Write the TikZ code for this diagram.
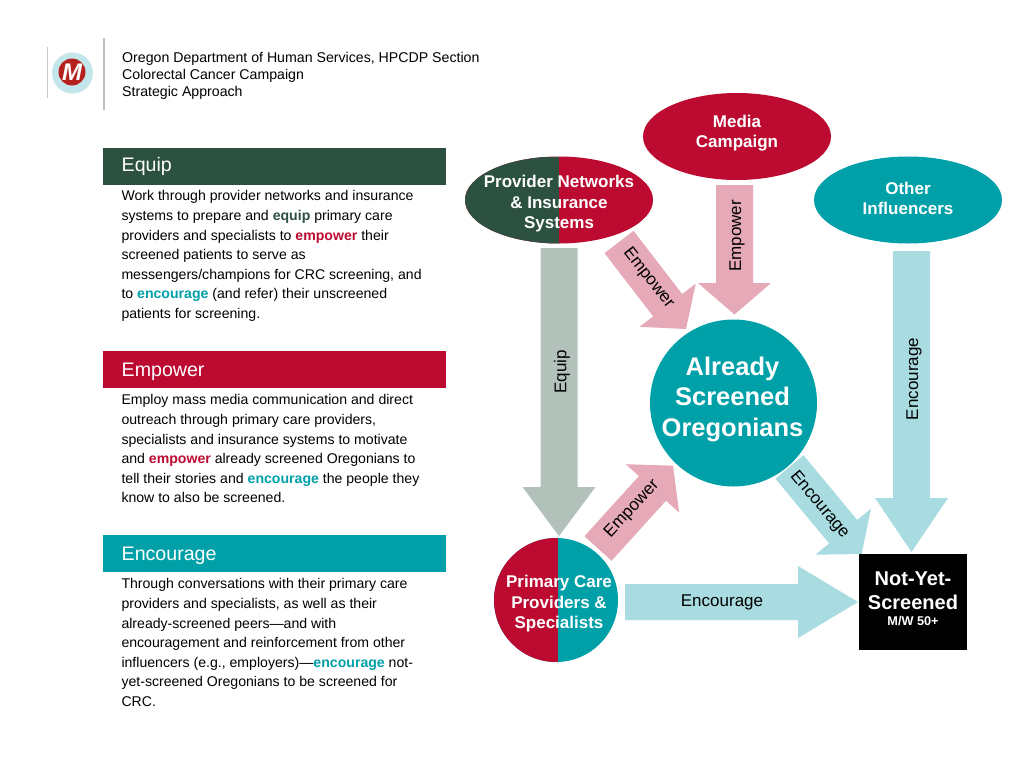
\documentclass[tikz,border=0pt]{standalone}
\usepackage{fontspec}
\usepackage{xcolor}
\usetikzlibrary{calc,shapes.geometric}
\setmainfont{Liberation Sans}
\definecolor{forest}{HTML}{2C5140}
\definecolor{crimson}{HTML}{BC0A31}
\definecolor{logored}{HTML}{B5211E}
\definecolor{teal}{HTML}{00A0A8}
\definecolor{pink}{HTML}{E5A9B8}
\definecolor{aqua}{HTML}{A8DCE1}
\definecolor{sage}{HTML}{B3C1BB}
\tikzset{
  BarBox/.style={
    rectangle, anchor=north west, minimum width=343pt, minimum height=36.5pt,
    inner sep=0pt
  },
  BarTitle/.style={
    anchor=west, inner sep=0pt, text=white, font=\fontsize{19.6}{22}\selectfont
  },
  BodyText/.style={
    anchor=north west, inner sep=0pt, align=left,
    font=\fontsize{14.1}{19.6}\selectfont
  },
  OvalBox/.style={ellipse, minimum width=188pt, minimum height=87pt, inner sep=0pt},
  RoundBox/.style={circle, inner sep=0pt},
  OnShape/.style={
    text=white, align=center, inner sep=0pt,
    font=\fontsize{17}{20.5}\selectfont\bfseries
  },
  ArrowText/.style={inner sep=0pt, font=\fontsize{17}{18}\selectfont}
}
\newcommand{\BlockArrow}[6]{%
  % #1 = colour, #2 = tail, #3 = tip
  % #4 = half shaft, #5 = half head, #6 = head length
  \pgfmathanglebetweenpoints{\pgfpointanchor{#2}{center}}{\pgfpointanchor{#3}{center}}
  \let\arrAng\pgfmathresult
  \coordinate (hb) at ($(#3)+(\arrAng:-#6pt)$);
  \fill[#1] ($(#2)+(\arrAng+90:#4pt)$) -- ($(hb)+(\arrAng+90:#4pt)$)
    -- ($(hb)+(\arrAng+90:#5pt)$) -- (#3) -- ($(hb)+(\arrAng-90:#5pt)$)
    -- ($(hb)+(\arrAng-90:#4pt)$) -- ($(#2)+(\arrAng-90:#4pt)$) -- cycle;
}

\begin{document}
\begin{tikzpicture}[x=1pt, y=-1pt]
  \useasboundingbox[fill=white] (0,0) rectangle (1024,768);

  % logo and heading
  \draw[black!22, line width=0.8pt] (47,47)--(47,98);
  \draw[black!25, line width=2.5pt] (104,38)--(104,110);
  \node[RoundBox, fill=aqua!70, minimum size=41pt] (ring) at (72.5,73) {};
  \node[RoundBox, fill=logored, minimum size=27pt] (logo) at (72,72) {};
  \node[inner sep=0pt, text=white, font=\fontsize{24}{26}\selectfont\bfseries\itshape] (logoM) at (72,72) {M};
  \node[BodyText, font=\fontsize{14.16}{17}\selectfont] (head) at (122,52)
    {Oregon Department of Human Services, HPCDP Section\\
     Colorectal Cancer Campaign\\Strategic Approach};

  % left column
  \node[BarBox, fill=forest] (equipbar) at (103,148) {};
  \node[BarTitle] (equiptitle) at (121.5,166) {Equip};
  \node[BodyText] (equiptext) at (121.3,190.5)
    {Work through provider networks and insurance\\
     systems to prepare and \textbf{\textcolor{forest}{equip}} primary care\\
     providers and specialists to \textbf{\textcolor{crimson}{empower}} their\\
     screened patients to serve as\\
     messengers/champions for CRC screening, and\\
     to \textbf{\textcolor{teal}{encourage}} (and refer) their unscreened\\
     patients for screening.};

  \node[BarBox, fill=crimson] (empowerbar) at (103,351) {};
  \node[BarTitle] (empowertitle) at (121.5,372) {Empower};
  \node[BodyText] (empowertext) at (121.3,394.5)
    {Employ mass media communication and direct\\
     outreach through primary care providers,\\
     specialists and insurance systems to motivate\\
     and \textbf{\textcolor{crimson}{empower}} already screened Oregonians to\\
     tell their stories and \textbf{\textcolor{teal}{encourage}} the people they\\
     know to also be screened.};

  \node[BarBox, fill=teal] (encouragebar) at (103,535) {};
  \node[BarTitle] (encouragetitle) at (121.5,556) {Encourage};
  \node[BodyText] (encouragetext) at (121.3,578.5)
    {Through conversations with their primary care\\
     providers and specialists, as well as their\\
     already-screened peers---and with\\
     encouragement and reinforcement from other\\
     influencers (e.g., employers)---\textbf{\textcolor{teal}{encourage}} not-\\
     yet-screened Oregonians to be screened for\\
     CRC.};

  % arrow ends
  \coordinate (EqA) at (559,248);
  \coordinate (EqB) at (559,536);
  \coordinate (MeA) at (734.5,185);
  \coordinate (MeB) at (734.5,314.5);
  \coordinate (PrA) at (619,242);
  \coordinate (PrB) at (686,329);
  \coordinate (PcA) at (598,548.5);
  \coordinate (PcB) at (673,465.7);
  \coordinate (AsA) at (789.5,467);
  \coordinate (AsB) at (861.7,554);
  \coordinate (PcC) at (625,602);
  \coordinate (NyA) at (858,602);
  \coordinate (OtA) at (911.5,251);
  \coordinate (NyB) at (911.5,552);

  \BlockArrow{sage}{EqA}{EqB}{18.5}{36.5}{49}
  \BlockArrow{pink}{MeA}{MeB}{18.5}{36.5}{31.5}
  \BlockArrow{pink}{PrA}{PrB}{18.3}{35.4}{30}
  \BlockArrow{pink}{PcA}{PcB}{18.3}{36}{30.6}
  \BlockArrow{aqua}{AsA}{AsB}{18.3}{36}{29}
  \BlockArrow{aqua}{PcC}{NyA}{18}{36}{60}
  \BlockArrow{aqua}{OtA}{NyB}{18.5}{36.5}{54}

  \node[ArrowText, rotate=90] (equiplabel) at (562,372) {Equip};
  \node[ArrowText, rotate=90] (mediaempower) at (737,236) {Empower};
  \node[ArrowText, rotate=-52] (providerempower) at (648.5,278) {Empower};
  \node[ArrowText, rotate=47] (primaryempower) at (632,509) {Empower};
  \node[ArrowText, rotate=-50] (screenedencourage) at (819.5,505) {Encourage};
  \node[ArrowText] (primaryencourage) at (722,602) {Encourage};
  \node[ArrowText, rotate=90] (otherencourage) at (914,379) {Encourage};

  % audiences
  \node[OvalBox, fill=crimson] (media) at (737,136.5) {};
  \node[OnShape] at (737,133) {Media\\Campaign};
  \node[OvalBox, fill=teal] (other) at (908,200) {};
  \node[OnShape] at (908,198.5) {Other\\Influencers};
  \node[OvalBox, fill=crimson, path picture={
    \fill[forest] (path picture bounding box.north west) rectangle (path picture bounding box.south);
  }] (provider) at (559,200) {};
  \node[OnShape] at (559,204) {Provider Networks\\\& Insurance\\Systems};
  \node[RoundBox, fill=teal, minimum size=124pt, path picture={
    \fill[crimson] (path picture bounding box.north west) rectangle ([xshift=2pt]path picture bounding box.south);
  }] (primary) at (556,600) {};
  \node[OnShape] at (559,604) {Primary Care\\Providers \&\\Specialists};
  \node[RoundBox, fill=teal, minimum size=167pt] (screened) at (733.5,403) {};
  \node[OnShape, font=\fontsize{25.5}{30.5}\selectfont\bfseries] at (732.5,399) {Already\\Screened\\Oregonians};
  \node[rectangle, fill=black, minimum width=108pt, minimum height=96pt, inner sep=0pt] (notyet) at (913,602) {};
  \node[OnShape, font=\fontsize{20}{24}\selectfont\bfseries] at (913,591) {Not-Yet-\\Screened};
  \node[OnShape, font=\fontsize{12.7}{14}\selectfont\bfseries] at (913,621) {M/W 50+};
\end{tikzpicture}
\end{document}
